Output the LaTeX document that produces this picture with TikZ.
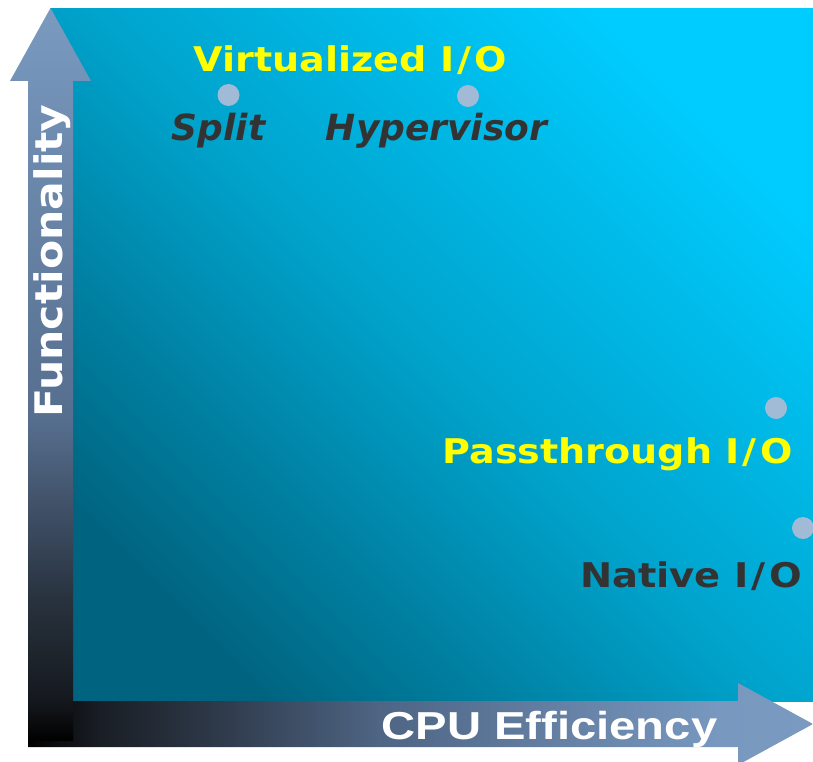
\documentclass[tikz,border=0pt]{standalone}
\usepackage{fontspec}
\newfontfamily\dvs{DejaVu Sans}
\newfontfamily\ars{Liberation Sans}
\definecolor{dotc}{RGB}{161,186,214}
\definecolor{darktxt}{RGB}{51,51,51}
\definecolor{yel}{RGB}{255,255,0}
\newcommand{\iosl}{I\kern3pt/\kern3pt O}
\pgfdeclarehorizontalshading{bgshade}{100bp}{rgb(0bp)=(0,0.39,0.5); rgb(25bp)=(0,0.39,0.5); rgb(50bp)=(0,0.64,0.8); rgb(75bp)=(0,0.8,1); rgb(100bp)=(0,0.8,1)}
\pgfdeclareverticalshading{vshade}{100bp}{rgb(0bp)=(0,0,0); rgb(25bp)=(0,0,0); rgb(27.8bp)=(0.082,0.098,0.118); rgb(34.6bp)=(0.157,0.196,0.243); rgb(46.9bp)=(0.337,0.431,0.557); rgb(75bp)=(0.478,0.604,0.753); rgb(100bp)=(0.478,0.604,0.753)}
\pgfdeclarehorizontalshading{hshade}{100bp}{rgb(0bp)=(0,0,0); rgb(25bp)=(0,0,0); rgb(29.6bp)=(0.102,0.118,0.145); rgb(36bp)=(0.169,0.208,0.267); rgb(47.4bp)=(0.306,0.396,0.518); rgb(69bp)=(0.471,0.596,0.749); rgb(75bp)=(0.478,0.604,0.753); rgb(100bp)=(0.478,0.604,0.753)}
\tikzset{
  dotmark/.style={circle, fill=dotc, minimum size=22pt, inner sep=0pt},
  ylabel/.style={anchor=base, inner sep=0pt, xscale=1.12, text=yel, font=\dvs\bfseries\fontsize{34}{40}\selectfont},
  ilabel/.style={anchor=base, inner sep=0pt, text=darktxt, font=\dvs\bfseries\itshape\fontsize{36}{40}\selectfont},
  nlabel/.style={anchor=base, inner sep=0pt, xscale=1.13, text=darktxt, font=\dvs\bfseries\fontsize{34}{40}\selectfont},
}
\begin{document}
\begin{tikzpicture}[x=1pt,y=1pt]
\useasboundingbox (0,0) rectangle (813,-762);
\clip (0,0) rectangle (813,-762);
% background
\shade[shading=bgshade, shading angle=45] (50,-9) rectangle (813,-701);
% horizontal arrow
\shade[shading=hshade] (28,-701) -- (738,-701) -- (738,-683) -- (813,-724) -- (738,-765) -- (738,-747) -- (28,-747) -- cycle;
% vertical arrow
\shade[shading=vshade] (28,-741) -- (28,-81) -- (10,-81) -- (50.5,-8) -- (91,-81) -- (73,-81) -- (73,-741) -- cycle;
% dots
\node[dotmark] (dsplit) at (228.5,-95) {};
\node[dotmark] (dhyp) at (468,-96) {};
\node[dotmark] (dpass) at (776,-408) {};
\node[dotmark] (dnat) at (803,-528) {};
% labels
\node[ylabel] (virt) at (350.5,-72) {Virtualized \iosl};
\node[ilabel] (split) at (218.5,-141) {Split};
\node[ilabel] (hyp) at (436.5,-141) {Hypervisor};
\node[ylabel] (pass) at (617.5,-463) {Passthrough \iosl};
\node[nlabel] (nat) at (691,-587) {Native \iosl};
\node[anchor=base, inner sep=0pt, xscale=1.21, text=white, font=\ars\bfseries\fontsize{39}{44}\selectfont] (cpu) at (549.5,-739) {CPU Efficiency};
\node[anchor=base, inner sep=0pt, rotate=90, xscale=1.12, text=white, font=\dvs\bfseries\fontsize{38}{42}\selectfont] (func) at (62,-261) {Functionality};
\end{tikzpicture}
\end{document}
